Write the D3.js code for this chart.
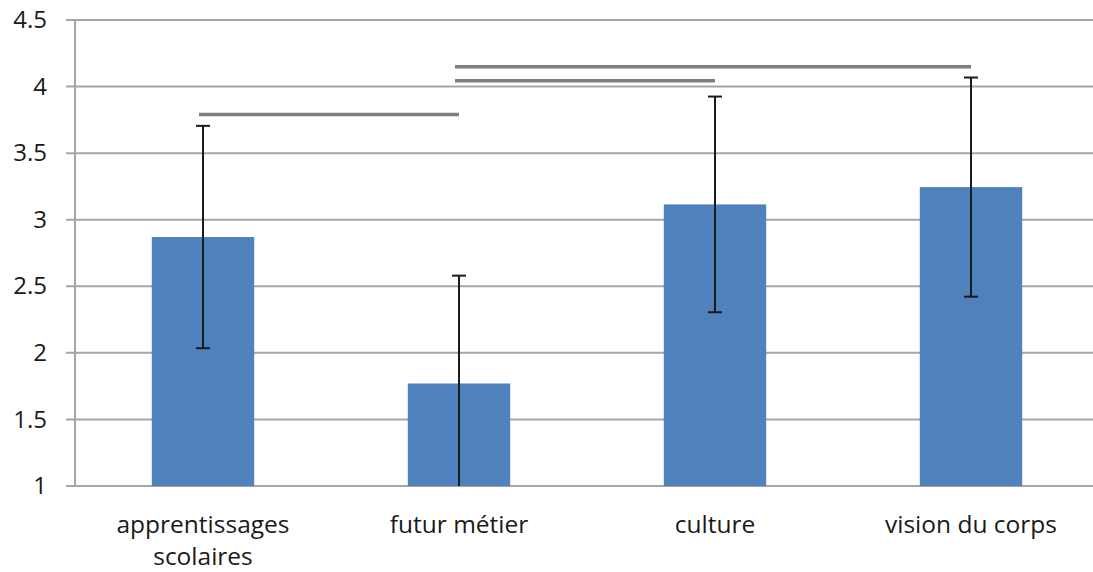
<!DOCTYPE html>
<html>
<head>
<meta charset="utf-8">
<script src="https://cdn.jsdelivr.net/npm/d3@7"></script>
<style>
  html, body { margin: 0; padding: 0; background: #fff; }
  svg { display: block; }
  text { font-family: "Open Sans", Lato, sans-serif; fill: #1a1a1a; }
</style>
</head>
<body>
<svg id="chart" width="1093" height="572"></svg>
<script>
// Mean scores per theme, with standard deviations
const categories = [["apprentissages", "scolaires"], ["futur métier"], ["culture"], ["vision du corps"]];
const means = [2.87, 1.77, 3.115, 3.245];
const sds = [0.835, 0.81, 0.81, 0.823];
const yTicks = [1, 1.5, 2, 2.5, 3, 3.5, 4, 4.5];

// Significance brackets: [from index, to index, level]
const sigFrom = [0, 1, 1];
const sigTo = [1, 2, 3];
const sigLevel = [3.79, 4.043, 4.148];

const svg = d3.select("#chart");
const W = 1093, H = 572;
const plotLeft = 75, plotRight = 1099, plotTop = 20, plotBottom = 486;

const x = d3.scaleBand()
  .domain(d3.range(categories.length))
  .range([plotLeft, plotRight])
  .paddingInner(0.6)
  .paddingOuter(0.3);

const y = d3.scaleLinear().domain([1, 4.5]).range([plotBottom, plotTop]);

// Horizontal gridlines
svg.append("g")
  .selectAll("line")
  .data(yTicks)
  .join("line")
  .attr("x1", plotLeft - 9)
  .attr("x2", W)
  .attr("y1", d => y(d))
  .attr("y2", d => y(d))
  .attr("stroke", "#a6a6a6")
  .attr("stroke-width", 2);

// Vertical axis line
svg.append("line")
  .attr("x1", plotLeft).attr("x2", plotLeft)
  .attr("y1", y(4.5)).attr("y2", y(1))
  .attr("stroke", "#a6a6a6")
  .attr("stroke-width", 2);

// Y tick labels
svg.append("g")
  .selectAll("text")
  .data(yTicks)
  .join("text")
  .attr("x", 47)
  .attr("y", d => y(d))
  .attr("dy", "0.34em")
  .attr("text-anchor", "end")
  .attr("font-size", 24)
  .text(d => d);

// Bars
svg.append("g")
  .selectAll("rect")
  .data(means)
  .join("rect")
  .attr("x", (d, i) => x(i))
  .attr("width", x.bandwidth())
  .attr("y", d => y(d))
  .attr("height", d => y(1) - y(d))
  .attr("fill", "#4f81bd");

// Error bars (clipped to the axis range)
const eb = svg.append("g").attr("stroke", "#1a1a1a").attr("stroke-width", 2);
means.forEach((m, i) => {
  const cx = x(i) + x.bandwidth() / 2;
  const hi = Math.min(4.5, m + sds[i]);
  const lo = Math.max(1, m - sds[i]);
  eb.append("line").attr("x1", cx).attr("x2", cx).attr("y1", y(hi)).attr("y2", y(lo));
  eb.append("line").attr("x1", cx - 7).attr("x2", cx + 7).attr("y1", y(hi)).attr("y2", y(hi));
  if (m - sds[i] > 1) {
    eb.append("line").attr("x1", cx - 7).attr("x2", cx + 7).attr("y1", y(lo)).attr("y2", y(lo));
  }
});

// Significance lines between themes
svg.append("g")
  .selectAll("line")
  .data(sigLevel)
  .join("line")
  .attr("x1", (d, i) => x(sigFrom[i]) + x.bandwidth() / 2 - 4)
  .attr("x2", (d, i) => x(sigTo[i]) + x.bandwidth() / 2)
  .attr("y1", d => y(d))
  .attr("y2", d => y(d))
  .attr("stroke", "#7f7f7f")
  .attr("stroke-width", 3.5);

// Category labels
const cl = svg.append("g")
  .selectAll("text")
  .data(categories)
  .join("text")
  .attr("x", (d, i) => x(i) + x.bandwidth() / 2)
  .attr("y", 533)
  .attr("text-anchor", "middle")
  .attr("font-size", 24.5);
cl.selectAll("tspan")
  .data(d => d)
  .join("tspan")
  .attr("x", function () { return d3.select(this.parentNode).attr("x"); })
  .attr("dy", (d, j) => j === 0 ? 0 : 32)
  .text(d => d);
</script>
</body>
</html>
